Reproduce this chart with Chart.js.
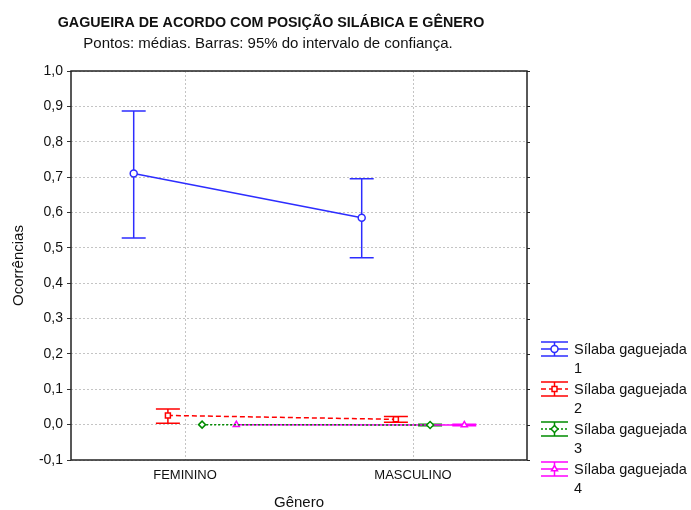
<!DOCTYPE html>
<html>
<head>
<meta charset="utf-8">
<script src="https://cdn.jsdelivr.net/npm/chart.js@4/dist/chart.umd.min.js"></script>
<style>
  html, body { margin: 0; padding: 0; background: #fff; }
  canvas { display: block; }
</style>
</head>
<body>
<canvas id="grafico" width="691" height="510"></canvas>
<script>
// dados
var categorias = ['FEMININO', 'MASCULINO'];
var rotulosSerie = ['Sílaba gaguejada 1', 'Sílaba gaguejada 2', 'Sílaba gaguejada 3', 'Sílaba gaguejada 4'];
var ticksY = [-0.1, 0.0, 0.1, 0.2, 0.3, 0.4, 0.5, 0.6, 0.7, 0.8, 0.9, 1.0];

var media1 = [0.710, 0.585];
var sup1 = [0.887, 0.695];
var inf1 = [0.528, 0.472];

var media2 = [0.026, 0.015];
var sup2 = [0.044, 0.023];
var inf2 = [0.004, 0.007];

var media3 = [0.000, -0.001];
var sup3 = [0.000, 0.001];
var inf3 = [0.000, -0.003];

var media4 = [0.000, -0.001];
var sup4 = [0.000, 0.001];
var inf4 = [0.000, -0.003];

var deslocamento = [-0.225, -0.075, 0.075, 0.225];

var cores = ['rgb(45,45,255)', 'rgb(255,0,0)', 'rgb(0,140,0)', 'rgb(255,0,255)'];
var tracos = [[], [5, 3], [2, 2], []];
var marcadores = ['circle', 'rect', 'rectRot', 'triangle'];

var medias = [media1, media2, media3, media4];
var superiores = [sup1, sup2, sup3, sup4];
var inferiores = [inf1, inf2, inf3, inf4];

function pontos(s) {
  return categorias.map(function (c, i) {
    return { x: i + 1 + deslocamento[s], y: medias[s][i], hi: superiores[s][i], lo: inferiores[s][i] };
  });
}

var datasets = rotulosSerie.map(function (r, s) {
  return {
    label: r,
    data: pontos(s),
    borderColor: cores[s],
    backgroundColor: '#fff',
    borderWidth: 1.5,
    borderDash: tracos[s],
    pointStyle: marcadores[s],
    pointRadius: 3.5,
    pointBorderWidth: 1.5,
    pointBackgroundColor: '#fff',
    pointBorderColor: cores[s],
    tension: 0
  };
});

var fonte = '"Liberation Sans", Arial, sans-serif';

// barras de erro, legenda, títulos e moldura
var extras = {
  id: 'extras',
  beforeDatasetsDraw: function (chart) {
    var ctx = chart.ctx;
    var xs = chart.scales.x, ys = chart.scales.y;
    ctx.save();
    chart.data.datasets.forEach(function (ds) {
      ctx.strokeStyle = ds.borderColor;
      ctx.lineWidth = 1.5;
      ctx.setLineDash([]);
      ds.data.forEach(function (p) {
        if (p.hi === p.lo) return;
        var x = xs.getPixelForValue(p.x);
        var yh = ys.getPixelForValue(p.hi), yl = ys.getPixelForValue(p.lo);
        ctx.beginPath();
        ctx.moveTo(x, yh); ctx.lineTo(x, yl);
        ctx.moveTo(x - 12, yh); ctx.lineTo(x + 12, yh);
        ctx.moveTo(x - 12, yl); ctx.lineTo(x + 12, yl);
        ctx.stroke();
      });
    });
    ctx.restore();
  },
  afterDraw: function (chart) {
    var ctx = chart.ctx;
    var a = chart.chartArea;
    ctx.save();

    // moldura
    ctx.setLineDash([]);
    ctx.strokeStyle = '#222';
    ctx.lineWidth = 1.5;
    ctx.strokeRect(a.left, a.top, a.right - a.left, a.bottom - a.top);
    ctx.lineWidth = 1;
    chart.scales.y.ticks.forEach(function (t) {
      var y = Math.round(chart.scales.y.getPixelForValue(t.value)) + 0.5;
      ctx.beginPath(); ctx.moveTo(a.right, y); ctx.lineTo(a.right + 3, y); ctx.stroke();
    });

    // títulos
    ctx.fillStyle = '#111';
    ctx.textAlign = 'center';
    ctx.textBaseline = 'middle';
    ctx.font = 'bold 14.3px ' + fonte;
    ctx.fillText('GAGUEIRA DE ACORDO COM POSIÇÃO SILÁBICA E GÊNERO', 271, 23);
    ctx.font = '15px ' + fonte;
    ctx.fillText('Pontos: médias. Barras: 95% do intervalo de confiança.', 268, 44);
    ctx.fillText('Gênero', (a.left + a.right) / 2, 503);
    ctx.save();
    ctx.translate(19, (a.top + a.bottom) / 2);
    ctx.rotate(-Math.PI / 2);
    ctx.fillText('Ocorrências', 0, 0);
    ctx.restore();

    // legenda
    ctx.textAlign = 'left';
    chart.data.datasets.forEach(function (ds, s) {
      var cy = 349 + s * 40;
      var x0 = 541, x1 = 568, cx = (x0 + x1) / 2;
      ctx.strokeStyle = ds.borderColor;
      ctx.lineWidth = 1.5;
      ctx.setLineDash(ds.borderDash);
      ctx.beginPath(); ctx.moveTo(x0, cy); ctx.lineTo(x1, cy); ctx.stroke();
      ctx.setLineDash([]);
      ctx.beginPath();
      ctx.moveTo(cx, cy - 7); ctx.lineTo(cx, cy + 7);
      ctx.moveTo(x0, cy - 7); ctx.lineTo(x1, cy - 7);
      ctx.moveTo(x0, cy + 7); ctx.lineTo(x1, cy + 7);
      ctx.stroke();
      ctx.fillStyle = '#fff';
      Chart.helpers.drawPoint(ctx, { pointStyle: ds.pointStyle, radius: 3.5, borderWidth: 1.5 }, cx, cy);
      ctx.fillStyle = '#111';
      ctx.font = '14.5px ' + fonte;
      var partes = ds.label.split(' ');
      var num = partes.pop();
      ctx.fillText(partes.join(' '), 574, cy + 1);
      ctx.fillText(num, 574, cy + 20);
    });
    ctx.restore();
  }
};

new Chart(document.getElementById('grafico'), {
  type: 'line',
  data: { datasets: datasets },
  options: {
    responsive: false,
    animation: false,
    devicePixelRatio: 1,
    layout: { padding: { left: 0, top: 71, right: 164, bottom: 0 } },
    plugins: { legend: { display: false }, tooltip: { enabled: false } },
    scales: {
      x: {
        type: 'linear',
        min: 0.5,
        max: 2.5,
        afterFit: function (scale) { scale.height = 50; },
        afterBuildTicks: function (scale) {
          scale.ticks = categorias.map(function (c, i) { return { value: i + 1 }; });
        },
        ticks: {
          padding: 8,
          color: '#111',
          font: { family: fonte, size: 13 },
          maxRotation: 0,
          callback: function (v) { return categorias[v - 1]; }
        },
        grid: { color: '#c4c4c4', drawTicks: false, lineWidth: 1 },
        border: { display: false, dash: [2, 2] }
      },
      y: {
        min: -0.1,
        max: 1.0,
        afterFit: function (scale) { scale.width = 71; },
        afterBuildTicks: function (scale) {
          scale.ticks = ticksY.map(function (v) { return { value: v }; });
        },
        ticks: {
          padding: 4,
          color: '#111',
          font: { family: fonte, size: 14 },
          callback: function (v) { return v.toFixed(1).replace('.', ','); }
        },
        grid: { color: '#c4c4c4', tickLength: 4, tickColor: '#333', tickBorderDash: [], lineWidth: 1 },
        border: { display: false, dash: [2, 2] }
      }
    }
  },
  plugins: [extras]
});
</script>
</body>
</html>
